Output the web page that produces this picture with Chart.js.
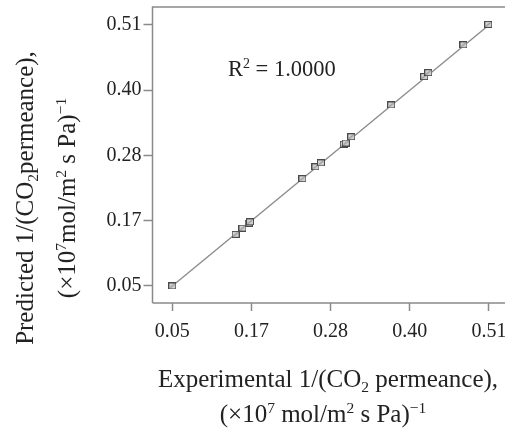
<!DOCTYPE html>
<html>
<head>
<meta charset="utf-8">
<script src="https://cdn.jsdelivr.net/npm/chart.js@4/dist/chart.umd.min.js"></script>
<style>
html,body{margin:0;padding:0;background:#fff;overflow:hidden;}
#wrap{width:505px;height:434px;position:relative;}
</style>
</head>
<body>
<div id="wrap"><canvas id="c" width="505" height="434"></canvas></div>
<script>
// ---- data ----
const expValues  = [0.050, 0.142, 0.152, 0.161, 0.163, 0.239, 0.258, 0.266, 0.299, 0.302, 0.310, 0.368, 0.416, 0.422, 0.473, 0.509];
const predValues = [0.050, 0.141, 0.152, 0.161, 0.163, 0.239, 0.260, 0.267, 0.300, 0.302, 0.313, 0.369, 0.419, 0.426, 0.475, 0.511];
const fitX = [0.05, 0.51];
const fitY = [0.05, 0.51];
const tickValues = [0.05, 0.165, 0.28, 0.395, 0.51];
const tickLabels = ['0.05', '0.17', '0.28', '0.40', '0.51'];
const rSquaredText = '1.0000';

const FONT = '"Liberation Serif", "Times New Roman", serif';
const AXIS_COLOR = '#8a8a8a';
const TEXT_COLOR = '#222';

// marker: small grey square with a thin diagonal
const marker = document.createElement('canvas');
marker.width = 8; marker.height = 7;
(function () {
  const m = marker.getContext('2d');
  m.fillStyle = '#cfcfcf';
  m.fillRect(0, 0, 8, 7);
  m.strokeStyle = '#4a4a4a';
  m.lineWidth = 1;
  m.strokeRect(0.5, 0.5, 7, 6);
  m.strokeStyle = '#7a7a7a';
  m.beginPath();
  m.moveTo(1.5, 5.5);
  m.lineTo(6.5, 1.5);
  m.stroke();
})();

function measureRich(ctx, segs, size) {
  let w = 0;
  for (const s of segs) {
    const fs = s.sub || s.sup ? size * 0.62 : size;
    ctx.font = fs + 'px ' + FONT;
    w += ctx.measureText(s.t).width;
  }
  return w;
}
function drawRich(ctx, segs, size, cx, cy, alignLeft) {
  const w = measureRich(ctx, segs, size);
  let x = alignLeft ? cx : cx - w / 2;
  ctx.textBaseline = 'alphabetic';
  ctx.textAlign = 'left';
  const base = cy + size * 0.33;
  for (const s of segs) {
    const fs = s.sub || s.sup ? size * 0.62 : size;
    ctx.font = fs + 'px ' + FONT;
    let y = base;
    if (s.sub) y = base + size * 0.18;
    if (s.sup) y = base - size * 0.38;
    ctx.fillText(s.t, x, y);
    x += ctx.measureText(s.t).width;
  }
}

const xTitle1 = [{t:'Experimental 1/(CO'},{t:'2',sub:true},{t:' permeance),'}];
const xTitle2 = [{t:'(×10'},{t:'7',sup:true},{t:' mol/m'},{t:'2',sup:true},{t:' s Pa)'},{t:'−1',sup:true}];
const yTitle1 = [{t:'Predicted 1/(CO'},{t:'2',sub:true},{t:'permeance),'}];
const yTitle2 = [{t:'(×10'},{t:'7',sup:true},{t:'mol/m'},{t:'2',sup:true},{t:' s Pa)'},{t:'−1',sup:true}];
const rText = [{t:'R'},{t:'2',sup:true},{t:' = ' + rSquaredText}];

const framePlugin = {
  id: 'frameAndText',
  afterDraw(chart) {
    const ctx = chart.ctx;
    const a = chart.chartArea;
    ctx.save();
    ctx.strokeStyle = AXIS_COLOR;
    ctx.lineWidth = 1.5;
    ctx.beginPath();
    ctx.moveTo(a.left, a.bottom);
    ctx.lineTo(a.left, a.top);
    ctx.lineTo(a.right, a.top);
    ctx.moveTo(a.left, a.bottom);
    ctx.lineTo(a.right, a.bottom);
    ctx.stroke();
    ctx.fillStyle = TEXT_COLOR;
    drawRich(ctx, rText, 22.5, 228, 69, true);
    drawRich(ctx, xTitle1, 25, 328, 379, false);
    drawRich(ctx, xTitle2, 25, 323, 414, false);
    ctx.restore();

    ctx.save();
    ctx.fillStyle = TEXT_COLOR;
    ctx.translate(25, 198);
    ctx.rotate(-Math.PI / 2);
    drawRich(ctx, yTitle1, 25, 0, 0, false);
    ctx.restore();

    ctx.save();
    ctx.fillStyle = TEXT_COLOR;
    ctx.translate(67, 198);
    ctx.rotate(-Math.PI / 2);
    drawRich(ctx, yTitle2, 25, 0, 0, false);
    ctx.restore();
  }
};

const scatterData = expValues.map((x, i) => ({x: x, y: predValues[i]}));
const fitData = fitX.map((x, i) => ({x: x, y: fitY[i]}));

new Chart(document.getElementById('c'), {
  type: 'scatter',
  data: {
    datasets: [
      {
        label: 'Data',
        data: scatterData,
        pointStyle: marker,
        pointRadius: 4,
        order: 1
      },
      {
        label: 'Fit',
        type: 'line',
        data: fitData,
        borderColor: '#8c8c8c',
        borderWidth: 1.4,
        pointRadius: 0,
        fill: false,
        order: 2
      }
    ]
  },
  options: {
    responsive: false,
    animation: false,
    events: [],
    layout: { autoPadding: false, padding: { left: 0, right: 0, top: 7, bottom: 0 } },
    plugins: { legend: { display: false }, tooltip: { enabled: false } },
    scales: {
      x: {
        type: 'linear',
        min: 0.0213,
        max: 0.5333,
        afterBuildTicks(scale) { scale.ticks = tickValues.map(v => ({value: v})); },
        afterFit(scale) {
          scale.height = 131;
          scale.paddingLeft = 0; scale.paddingRight = 0;
        },
        grid: { display: true, drawOnChartArea: false, drawTicks: true, tickLength: 8, tickColor: AXIS_COLOR, tickWidth: 1.5 },
        border: { display: false },
        ticks: {
          autoSkip: false,
          maxRotation: 0,
          padding: 9,
          color: TEXT_COLOR,
          font: { family: FONT, size: 20 },
          callback: (v, i) => tickLabels[i]
        }
      },
      y: {
        type: 'linear',
        min: 0.02,
        max: 0.5417,
        afterBuildTicks(scale) { scale.ticks = tickValues.map(v => ({value: v})); },
        afterFit(scale) {
          scale.width = 152.5;
          scale.paddingTop = 0; scale.paddingBottom = 0;
        },
        grid: { display: true, drawOnChartArea: false, drawTicks: true, tickLength: 9, tickColor: AXIS_COLOR, tickWidth: 1.5 },
        border: { display: false },
        ticks: {
          autoSkip: false,
          padding: 2,
          color: TEXT_COLOR,
          font: { family: FONT, size: 20 },
          callback: (v, i) => tickLabels[i]
        }
      }
    }
  },
  plugins: [framePlugin]
});
</script>
</body>
</html>
